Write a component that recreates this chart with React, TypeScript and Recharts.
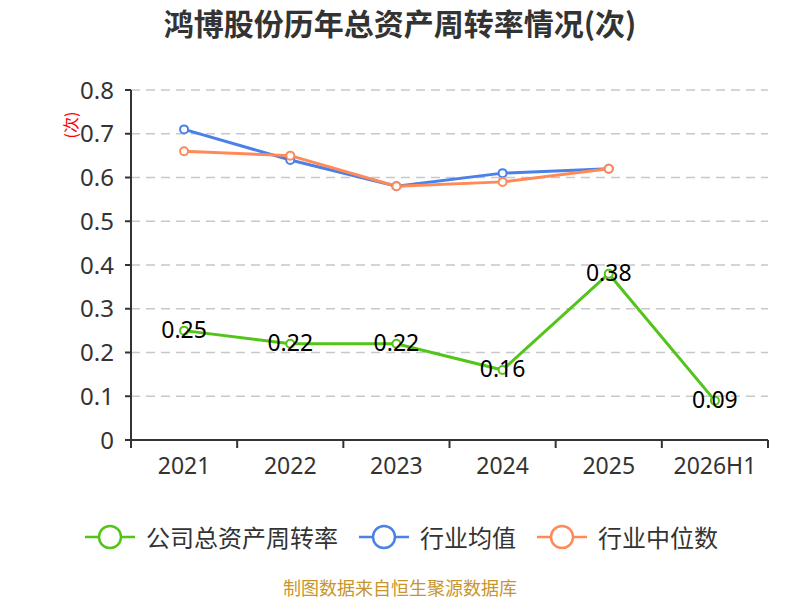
import { CartesianGrid, Legend, LabelList, Line, LineChart, XAxis, YAxis } from "recharts";

const GREEN = "#52c41a";
const BLUE = "#4a80e8";
const ORANGE = "#ff8a57";
const INK = "#333";
const GRID = "#c8c8c8";
const FONT = "'Noto Sans', 'Noto Sans CJK SC', sans-serif";
const CJK = "'Noto Sans CJK SC', sans-serif";

const years = ["2021", "2022", "2023", "2024", "2025", "2026H1"];
const company = [0.25, 0.22, 0.22, 0.16, 0.38, 0.09];
const industryAvg = [0.71, 0.64, 0.58, 0.61, 0.62, null];
const industryMedian = [0.66, 0.65, 0.58, 0.59, 0.62, null];
const yTicks = [0, 0.1, 0.2, 0.3, 0.4, 0.5, 0.6, 0.7, 0.8];

const legendItems = [
  { name: "公司总资产周转率", color: GREEN },
  { name: "行业均值", color: BLUE },
  { name: "行业中位数", color: ORANGE },
];

const data = years.map((year, i) => ({
  year,
  company: company[i],
  avg: industryAvg[i],
  median: industryMedian[i],
}));

function YearTick(props: any) {
  const { x, y, payload } = props;
  const half = payload.offset || 53;
  const last = payload.index === years.length - 1;
  return (
    <g>
      <line x1={x - half} x2={x - half} y1={y} y2={y + 8} stroke={INK} strokeWidth={2} />
      {last && <line x1={x + half} x2={x + half} y1={y} y2={y + 8} stroke={INK} strokeWidth={2} />}
      <text x={x} y={y + 25} textAnchor="middle" dominantBaseline="central" fill={INK} fontSize={23} fontFamily={FONT}>
        {payload.value}
      </text>
    </g>
  );
}

function PointLabel(props: any) {
  const { x, y, value } = props;
  return (
    <text x={x} y={y - 2} textAnchor="middle" dominantBaseline="central" fill="#000" fontSize={23} fontFamily={FONT}>
      {value}
    </text>
  );
}

function LegendRow() {
  return (
    <div style={{ display: "flex", alignItems: "center", height: 30, paddingLeft: 85, fontFamily: CJK, fontSize: 24, lineHeight: "30px", color: INK }}>
      {legendItems.map((item) => (
        <div key={item.name} style={{ display: "flex", alignItems: "center", marginRight: 21 }}>
          <svg width={50} height={30} style={{ marginRight: 11 }}>
            <line x1={0} x2={50} y1={15} y2={15} stroke={item.color} strokeWidth={2.5} />
            <circle cx={25} cy={15} r={11} fill="#fff" stroke={item.color} strokeWidth={2.5} />
          </svg>
          <span>{item.name}</span>
        </div>
      ))}
    </div>
  );
}

export default function App() {
  return (
    <div style={{ position: "absolute", left: 0, top: 0, width: 800, height: 600, background: "#fff", fontFamily: FONT }}>
      <div
        style={{
          position: "absolute",
          top: 0,
          width: 800,
          textAlign: "center",
          fontSize: 30,
          fontWeight: 700,
          color: INK,
          fontFamily: CJK,
          lineHeight: "44px",
        }}
      >
        鸿博股份历年总资产周转率情况(次)
      </div>
      <LineChart width={800} height={600} data={data} margin={{ top: 90, right: 32, bottom: 120, left: 0 }}>
        <CartesianGrid vertical={false} stroke={GRID} strokeDasharray="9 6" strokeWidth={1.5} />
        <XAxis
          dataKey="year"
          scale="band"
          height={40}
          tickSize={0}
          tickMargin={0}
          tickLine={false}
          axisLine={{ stroke: INK, strokeWidth: 2 }}
          tick={<YearTick />}
          interval={0}
        />
        <YAxis
          width={131}
          domain={[0, 0.8]}
          ticks={yTicks}
          interval={0}
          tickFormatter={(v: number) => (v === 0 ? "0" : v.toFixed(1))}
          tick={{ fontSize: 24, fill: INK, fontFamily: FONT }}
          tickSize={6}
          tickMargin={11}
          tickLine={{ stroke: INK, strokeWidth: 2 }}
          axisLine={{ stroke: INK, strokeWidth: 2 }}
          label={{
            content: () => (
              <text
                x={70}
                y={125}
                transform="rotate(-90, 70, 125)"
                textAnchor="middle"
                dominantBaseline="central"
                fill="red"
                fontSize={16}
                fontFamily={CJK}
              >
                (次)
              </text>
            ),
          }}
        />
        <Legend
          layout="horizontal"
          verticalAlign="middle"
          align="center"
          wrapperStyle={{ top: 522, left: 0, width: 800 }}
          content={() => <LegendRow />}
        />
        <Line
          type="linear"
          dataKey="avg"
          stroke={BLUE}
          strokeWidth={3}
          dot={{ r: 4, fill: "#fff", stroke: BLUE, strokeWidth: 2 }}
          activeDot={false}
          isAnimationActive={false}
        />
        <Line
          type="linear"
          dataKey="median"
          stroke={ORANGE}
          strokeWidth={3}
          dot={{ r: 4, fill: "#fff", stroke: ORANGE, strokeWidth: 2 }}
          activeDot={false}
          isAnimationActive={false}
        />
        <Line
          type="linear"
          dataKey="company"
          stroke={GREEN}
          strokeWidth={3}
          dot={{ r: 4, fill: "#fff", stroke: GREEN, strokeWidth: 2 }}
          activeDot={false}
          isAnimationActive={false}
        >
          <LabelList dataKey="company" content={<PointLabel />} />
        </Line>
      </LineChart>
      <div
        style={{
          position: "absolute",
          top: 577,
          width: 800,
          textAlign: "center",
          fontSize: 18,
          color: "#c8952c",
          fontFamily: CJK,
          lineHeight: "20px",
        }}
      >
        制图数据来自恒生聚源数据库
      </div>
    </div>
  );
}
